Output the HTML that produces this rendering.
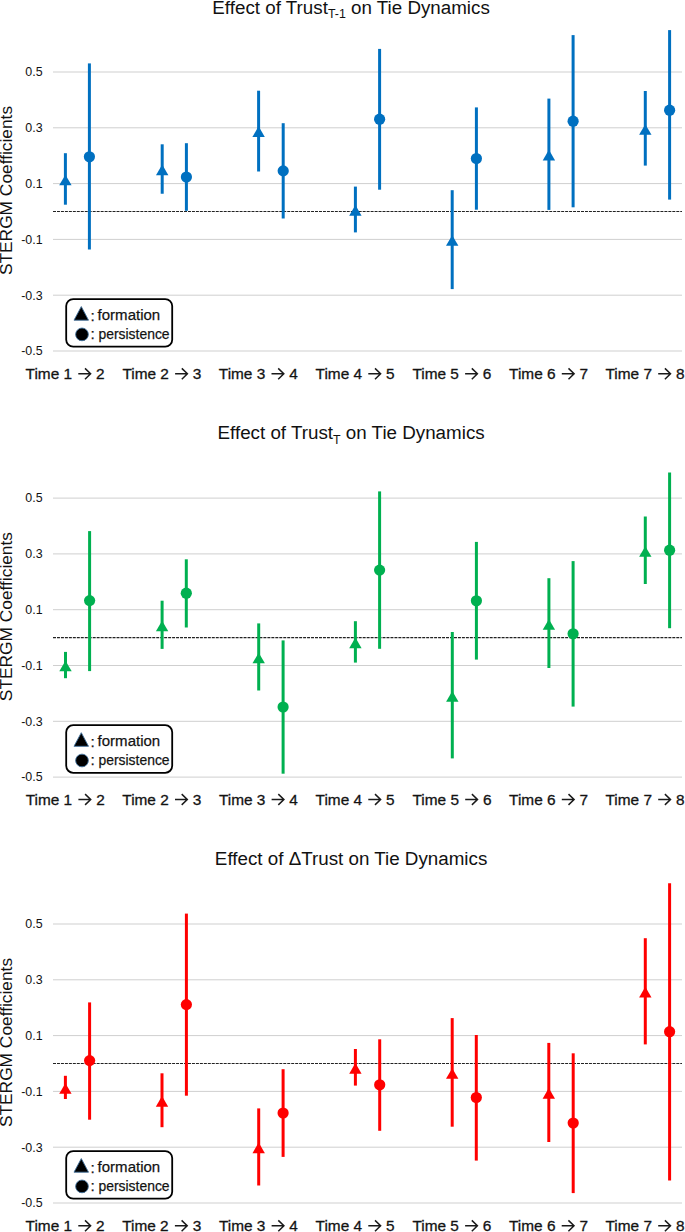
<!DOCTYPE html>
<html><head><meta charset="utf-8"><style>
html,body{margin:0;padding:0;background:#fff;}
svg{display:block;}
text{font-family:"Liberation Sans", sans-serif;fill:#111;}
.tk{font-size:13.5px;}
.yl{font-size:17.33px;}
.ti{font-size:18.8px;}
.sub{font-size:12.4px;}
.xl{font-size:15.4px;stroke:#1a1a1a;stroke-width:0.3px;}
.lg{font-size:15.4px;stroke:#1a1a1a;stroke-width:0.25px;}
</style></head><body>
<svg width="685" height="1232" viewBox="0 0 685 1232">
<rect width="685" height="1232" fill="#fff"/>
<line x1="53.0" y1="72.00" x2="682.0" y2="72.00" stroke="#cfcfcf" stroke-width="1"/>
<line x1="53.0" y1="127.80" x2="682.0" y2="127.80" stroke="#cfcfcf" stroke-width="1"/>
<line x1="53.0" y1="183.60" x2="682.0" y2="183.60" stroke="#cfcfcf" stroke-width="1"/>
<line x1="53.0" y1="239.40" x2="682.0" y2="239.40" stroke="#cfcfcf" stroke-width="1"/>
<line x1="53.0" y1="295.20" x2="682.0" y2="295.20" stroke="#cfcfcf" stroke-width="1"/>
<line x1="53.0" y1="351.00" x2="682.0" y2="351.00" stroke="#cfcfcf" stroke-width="1"/>
<text transform="translate(42.6,76.30) scale(0.92,1)" text-anchor="end" class="tk">0.5</text>
<text transform="translate(42.6,132.10) scale(0.92,1)" text-anchor="end" class="tk">0.3</text>
<text transform="translate(42.6,187.90) scale(0.92,1)" text-anchor="end" class="tk">0.1</text>
<text transform="translate(42.6,243.70) scale(0.92,1)" text-anchor="end" class="tk">-0.1</text>
<text transform="translate(42.6,299.50) scale(0.92,1)" text-anchor="end" class="tk">-0.3</text>
<text transform="translate(42.6,355.30) scale(0.92,1)" text-anchor="end" class="tk">-0.5</text>
<line x1="53.0" y1="211.50" x2="682.0" y2="211.50" stroke="#222" stroke-width="1.1" stroke-dasharray="2.98 0.99"/>
<text transform="translate(12.2,190.5) rotate(-90)" text-anchor="middle" class="yl">STERGM Coefficients</text>
<text x="351.1" y="13.8" text-anchor="middle" class="ti">Effect of Trust<tspan class="sub" dy="4.6">T-1</tspan><tspan dy="-4.6"> on Tie Dynamics</tspan></text>
<line x1="65.4" y1="153.2" x2="65.4" y2="204.7" stroke="#0070C0" stroke-width="3"/>
<path d="M65.40 174.65L71.60 185.35L59.20 185.35Z" fill="#0070C0"/>
<line x1="89.4" y1="63.4" x2="89.4" y2="249.5" stroke="#0070C0" stroke-width="3"/>
<circle cx="89.4" cy="156.8" r="5.6" fill="#0070C0"/>
<line x1="162.2" y1="144.3" x2="162.2" y2="193.75" stroke="#0070C0" stroke-width="3"/>
<path d="M162.20 164.45L168.40 175.15L156.00 175.15Z" fill="#0070C0"/>
<line x1="186.4" y1="143.2" x2="186.4" y2="210.8" stroke="#0070C0" stroke-width="3"/>
<circle cx="186.4" cy="177.0" r="5.6" fill="#0070C0"/>
<line x1="258.6" y1="90.7" x2="258.6" y2="171.5" stroke="#0070C0" stroke-width="3"/>
<path d="M258.60 126.25L264.80 136.95L252.40 136.95Z" fill="#0070C0"/>
<line x1="283.2" y1="123.2" x2="283.2" y2="218.5" stroke="#0070C0" stroke-width="3"/>
<circle cx="283.2" cy="170.9" r="5.6" fill="#0070C0"/>
<line x1="355.4" y1="186.6" x2="355.4" y2="232.4" stroke="#0070C0" stroke-width="3"/>
<path d="M355.40 204.95L361.60 215.65L349.20 215.65Z" fill="#0070C0"/>
<line x1="379.6" y1="48.9" x2="379.6" y2="189.7" stroke="#0070C0" stroke-width="3"/>
<circle cx="379.6" cy="119.2" r="5.6" fill="#0070C0"/>
<line x1="452.2" y1="190.2" x2="452.2" y2="289.1" stroke="#0070C0" stroke-width="3"/>
<path d="M452.20 235.15L458.40 245.85L446.00 245.85Z" fill="#0070C0"/>
<line x1="476.4" y1="107.4" x2="476.4" y2="209.7" stroke="#0070C0" stroke-width="3"/>
<circle cx="476.4" cy="158.5" r="5.6" fill="#0070C0"/>
<line x1="548.9" y1="98.6" x2="548.9" y2="209.9" stroke="#0070C0" stroke-width="3"/>
<path d="M548.90 149.85L555.10 160.55L542.70 160.55Z" fill="#0070C0"/>
<line x1="573.1" y1="35.1" x2="573.1" y2="207.3" stroke="#0070C0" stroke-width="3"/>
<circle cx="573.1" cy="121.2" r="5.6" fill="#0070C0"/>
<line x1="645.3" y1="91.0" x2="645.3" y2="165.6" stroke="#0070C0" stroke-width="3"/>
<path d="M645.30 124.15L651.50 134.85L639.10 134.85Z" fill="#0070C0"/>
<line x1="669.6" y1="30.1" x2="669.6" y2="199.6" stroke="#0070C0" stroke-width="3"/>
<circle cx="669.6" cy="110.2" r="5.6" fill="#0070C0"/>
<text x="25.60" y="379.0" class="xl">Time 1</text>
<path d="M78.30 373.80H90.40M85.00 368.40L90.60 373.80L85.00 379.20" fill="none" stroke="#1a1a1a" stroke-width="1.5"/>
<text x="104.60" y="379.0" text-anchor="end" class="xl">2</text>
<text x="122.40" y="379.0" class="xl">Time 2</text>
<path d="M175.10 373.80H187.20M181.80 368.40L187.40 373.80L181.80 379.20" fill="none" stroke="#1a1a1a" stroke-width="1.5"/>
<text x="201.40" y="379.0" text-anchor="end" class="xl">3</text>
<text x="218.80" y="379.0" class="xl">Time 3</text>
<path d="M271.50 373.80H283.60M278.20 368.40L283.80 373.80L278.20 379.20" fill="none" stroke="#1a1a1a" stroke-width="1.5"/>
<text x="297.80" y="379.0" text-anchor="end" class="xl">4</text>
<text x="315.60" y="379.0" class="xl">Time 4</text>
<path d="M368.30 373.80H380.40M375.00 368.40L380.60 373.80L375.00 379.20" fill="none" stroke="#1a1a1a" stroke-width="1.5"/>
<text x="394.60" y="379.0" text-anchor="end" class="xl">5</text>
<text x="412.40" y="379.0" class="xl">Time 5</text>
<path d="M465.10 373.80H477.20M471.80 368.40L477.40 373.80L471.80 379.20" fill="none" stroke="#1a1a1a" stroke-width="1.5"/>
<text x="491.40" y="379.0" text-anchor="end" class="xl">6</text>
<text x="509.10" y="379.0" class="xl">Time 6</text>
<path d="M561.80 373.80H573.90M568.50 368.40L574.10 373.80L568.50 379.20" fill="none" stroke="#1a1a1a" stroke-width="1.5"/>
<text x="588.10" y="379.0" text-anchor="end" class="xl">7</text>
<text x="605.50" y="379.0" class="xl">Time 7</text>
<path d="M658.20 373.80H670.30M664.90 368.40L670.50 373.80L664.90 379.20" fill="none" stroke="#1a1a1a" stroke-width="1.5"/>
<text x="684.50" y="379.0" text-anchor="end" class="xl">8</text>
<rect x="66.2" y="299.1" width="106" height="47.6" rx="7" ry="7" fill="#fff" stroke="#000" stroke-width="1.8"/>
<path d="M81.3 306.6L88.5 320.2L74.0 320.2Z" fill="#000" stroke="#41719C" stroke-width="0.9"/>
<circle cx="82" cy="334.4" r="6.35" fill="#000" stroke="#41719C" stroke-width="0.9"/>
<text x="90.4" y="320.5" class="lg">:</text>
<text x="90.4" y="339.0" class="lg">:</text>
<text x="97.6" y="319.9" class="lg" textLength="62.6" lengthAdjust="spacingAndGlyphs">formation</text>
<text x="98.4" y="338.5" class="lg" textLength="71.2" lengthAdjust="spacingAndGlyphs">persistence</text>
<line x1="53.0" y1="498.10" x2="682.0" y2="498.10" stroke="#cfcfcf" stroke-width="1"/>
<line x1="53.0" y1="553.90" x2="682.0" y2="553.90" stroke="#cfcfcf" stroke-width="1"/>
<line x1="53.0" y1="609.70" x2="682.0" y2="609.70" stroke="#cfcfcf" stroke-width="1"/>
<line x1="53.0" y1="665.50" x2="682.0" y2="665.50" stroke="#cfcfcf" stroke-width="1"/>
<line x1="53.0" y1="721.30" x2="682.0" y2="721.30" stroke="#cfcfcf" stroke-width="1"/>
<line x1="53.0" y1="777.10" x2="682.0" y2="777.10" stroke="#cfcfcf" stroke-width="1"/>
<text transform="translate(42.6,502.40) scale(0.92,1)" text-anchor="end" class="tk">0.5</text>
<text transform="translate(42.6,558.20) scale(0.92,1)" text-anchor="end" class="tk">0.3</text>
<text transform="translate(42.6,614.00) scale(0.92,1)" text-anchor="end" class="tk">0.1</text>
<text transform="translate(42.6,669.80) scale(0.92,1)" text-anchor="end" class="tk">-0.1</text>
<text transform="translate(42.6,725.60) scale(0.92,1)" text-anchor="end" class="tk">-0.3</text>
<text transform="translate(42.6,781.40) scale(0.92,1)" text-anchor="end" class="tk">-0.5</text>
<line x1="53.0" y1="637.60" x2="682.0" y2="637.60" stroke="#222" stroke-width="1.1" stroke-dasharray="2.98 0.99"/>
<text transform="translate(12.2,616.6) rotate(-90)" text-anchor="middle" class="yl">STERGM Coefficients</text>
<text x="351.1" y="439.3" text-anchor="middle" class="ti">Effect of Trust<tspan class="sub" dy="4.6">T</tspan><tspan dy="-4.6"> on Tie Dynamics</tspan></text>
<line x1="65.5" y1="651.9" x2="65.5" y2="678.2" stroke="#00B050" stroke-width="3"/>
<path d="M65.50 660.65L71.70 671.35L59.30 671.35Z" fill="#00B050"/>
<line x1="89.6" y1="531.1" x2="89.6" y2="671.1" stroke="#00B050" stroke-width="3"/>
<circle cx="89.6" cy="600.6" r="5.6" fill="#00B050"/>
<line x1="162.1" y1="600.7" x2="162.1" y2="648.9" stroke="#00B050" stroke-width="3"/>
<path d="M162.10 620.65L168.30 631.35L155.90 631.35Z" fill="#00B050"/>
<line x1="186.3" y1="559.3" x2="186.3" y2="627.5" stroke="#00B050" stroke-width="3"/>
<circle cx="186.3" cy="593.2" r="5.6" fill="#00B050"/>
<line x1="258.7" y1="623.4" x2="258.7" y2="690.5" stroke="#00B050" stroke-width="3"/>
<path d="M258.70 652.65L264.90 663.35L252.50 663.35Z" fill="#00B050"/>
<line x1="283.1" y1="640.4" x2="283.1" y2="773.7" stroke="#00B050" stroke-width="3"/>
<circle cx="283.1" cy="707.0" r="5.6" fill="#00B050"/>
<line x1="355.4" y1="621.2" x2="355.4" y2="662.6" stroke="#00B050" stroke-width="3"/>
<path d="M355.40 637.55L361.60 648.25L349.20 648.25Z" fill="#00B050"/>
<line x1="379.6" y1="491.4" x2="379.6" y2="648.8" stroke="#00B050" stroke-width="3"/>
<circle cx="379.6" cy="570.1" r="5.6" fill="#00B050"/>
<line x1="452.3" y1="632.0" x2="452.3" y2="758.4" stroke="#00B050" stroke-width="3"/>
<path d="M452.30 690.95L458.50 701.65L446.10 701.65Z" fill="#00B050"/>
<line x1="476.4" y1="541.9" x2="476.4" y2="659.6" stroke="#00B050" stroke-width="3"/>
<circle cx="476.4" cy="600.8" r="5.6" fill="#00B050"/>
<line x1="548.9" y1="578.2" x2="548.9" y2="668.0" stroke="#00B050" stroke-width="3"/>
<path d="M548.90 619.15L555.10 629.85L542.70 629.85Z" fill="#00B050"/>
<line x1="573.1" y1="561.1" x2="573.1" y2="706.6" stroke="#00B050" stroke-width="3"/>
<circle cx="573.1" cy="633.8" r="5.6" fill="#00B050"/>
<line x1="645.3" y1="516.5" x2="645.3" y2="584.0" stroke="#00B050" stroke-width="3"/>
<path d="M645.30 546.15L651.50 556.85L639.10 556.85Z" fill="#00B050"/>
<line x1="669.6" y1="472.5" x2="669.6" y2="628.2" stroke="#00B050" stroke-width="3"/>
<circle cx="669.6" cy="550.2" r="5.6" fill="#00B050"/>
<text x="25.70" y="804.7" class="xl">Time 1</text>
<path d="M78.40 799.50H90.50M85.10 794.10L90.70 799.50L85.10 804.90" fill="none" stroke="#1a1a1a" stroke-width="1.5"/>
<text x="104.70" y="804.7" text-anchor="end" class="xl">2</text>
<text x="122.30" y="804.7" class="xl">Time 2</text>
<path d="M175.00 799.50H187.10M181.70 794.10L187.30 799.50L181.70 804.90" fill="none" stroke="#1a1a1a" stroke-width="1.5"/>
<text x="201.30" y="804.7" text-anchor="end" class="xl">3</text>
<text x="218.90" y="804.7" class="xl">Time 3</text>
<path d="M271.60 799.50H283.70M278.30 794.10L283.90 799.50L278.30 804.90" fill="none" stroke="#1a1a1a" stroke-width="1.5"/>
<text x="297.90" y="804.7" text-anchor="end" class="xl">4</text>
<text x="315.60" y="804.7" class="xl">Time 4</text>
<path d="M368.30 799.50H380.40M375.00 794.10L380.60 799.50L375.00 804.90" fill="none" stroke="#1a1a1a" stroke-width="1.5"/>
<text x="394.60" y="804.7" text-anchor="end" class="xl">5</text>
<text x="412.50" y="804.7" class="xl">Time 5</text>
<path d="M465.20 799.50H477.30M471.90 794.10L477.50 799.50L471.90 804.90" fill="none" stroke="#1a1a1a" stroke-width="1.5"/>
<text x="491.50" y="804.7" text-anchor="end" class="xl">6</text>
<text x="509.10" y="804.7" class="xl">Time 6</text>
<path d="M561.80 799.50H573.90M568.50 794.10L574.10 799.50L568.50 804.90" fill="none" stroke="#1a1a1a" stroke-width="1.5"/>
<text x="588.10" y="804.7" text-anchor="end" class="xl">7</text>
<text x="605.50" y="804.7" class="xl">Time 7</text>
<path d="M658.20 799.50H670.30M664.90 794.10L670.50 799.50L664.90 804.90" fill="none" stroke="#1a1a1a" stroke-width="1.5"/>
<text x="684.50" y="804.7" text-anchor="end" class="xl">8</text>
<rect x="66.2" y="725.2" width="106" height="47.6" rx="7" ry="7" fill="#fff" stroke="#000" stroke-width="1.8"/>
<path d="M81.3 732.7L88.5 746.3L74.0 746.3Z" fill="#000" stroke="#41719C" stroke-width="0.9"/>
<circle cx="82" cy="760.5" r="6.35" fill="#000" stroke="#41719C" stroke-width="0.9"/>
<text x="90.4" y="746.6" class="lg">:</text>
<text x="90.4" y="765.1" class="lg">:</text>
<text x="97.6" y="746.0" class="lg" textLength="62.6" lengthAdjust="spacingAndGlyphs">formation</text>
<text x="98.4" y="764.6" class="lg" textLength="71.2" lengthAdjust="spacingAndGlyphs">persistence</text>
<line x1="53.0" y1="924.00" x2="682.0" y2="924.00" stroke="#cfcfcf" stroke-width="1"/>
<line x1="53.0" y1="979.80" x2="682.0" y2="979.80" stroke="#cfcfcf" stroke-width="1"/>
<line x1="53.0" y1="1035.60" x2="682.0" y2="1035.60" stroke="#cfcfcf" stroke-width="1"/>
<line x1="53.0" y1="1091.40" x2="682.0" y2="1091.40" stroke="#cfcfcf" stroke-width="1"/>
<line x1="53.0" y1="1147.20" x2="682.0" y2="1147.20" stroke="#cfcfcf" stroke-width="1"/>
<line x1="53.0" y1="1203.00" x2="682.0" y2="1203.00" stroke="#cfcfcf" stroke-width="1"/>
<text transform="translate(42.6,928.30) scale(0.92,1)" text-anchor="end" class="tk">0.5</text>
<text transform="translate(42.6,984.10) scale(0.92,1)" text-anchor="end" class="tk">0.3</text>
<text transform="translate(42.6,1039.90) scale(0.92,1)" text-anchor="end" class="tk">0.1</text>
<text transform="translate(42.6,1095.70) scale(0.92,1)" text-anchor="end" class="tk">-0.1</text>
<text transform="translate(42.6,1151.50) scale(0.92,1)" text-anchor="end" class="tk">-0.3</text>
<text transform="translate(42.6,1207.30) scale(0.92,1)" text-anchor="end" class="tk">-0.5</text>
<line x1="53.0" y1="1063.50" x2="682.0" y2="1063.50" stroke="#222" stroke-width="1.1" stroke-dasharray="2.98 0.99"/>
<text transform="translate(12.2,1042.5) rotate(-90)" text-anchor="middle" class="yl">STERGM Coefficients</text>
<text x="351.1" y="865.3" text-anchor="middle" class="ti">Effect of ΔTrust on Tie Dynamics</text>
<line x1="65.4" y1="1075.8" x2="65.4" y2="1099.0" stroke="#FF0000" stroke-width="3"/>
<path d="M65.40 1083.15L71.60 1093.85L59.20 1093.85Z" fill="#FF0000"/>
<line x1="89.6" y1="1002.4" x2="89.6" y2="1119.7" stroke="#FF0000" stroke-width="3"/>
<circle cx="89.6" cy="1060.6" r="5.6" fill="#FF0000"/>
<line x1="162.0" y1="1073.3" x2="162.0" y2="1127.2" stroke="#FF0000" stroke-width="3"/>
<path d="M162.00 1096.05L168.20 1106.75L155.80 1106.75Z" fill="#FF0000"/>
<line x1="186.4" y1="913.6" x2="186.4" y2="1095.7" stroke="#FF0000" stroke-width="3"/>
<circle cx="186.4" cy="1004.6" r="5.6" fill="#FF0000"/>
<line x1="258.7" y1="1108.4" x2="258.7" y2="1185.5" stroke="#FF0000" stroke-width="3"/>
<path d="M258.70 1142.45L264.90 1153.15L252.50 1153.15Z" fill="#FF0000"/>
<line x1="283.1" y1="1069.2" x2="283.1" y2="1156.9" stroke="#FF0000" stroke-width="3"/>
<circle cx="283.1" cy="1113.0" r="5.6" fill="#FF0000"/>
<line x1="355.4" y1="1049.0" x2="355.4" y2="1085.6" stroke="#FF0000" stroke-width="3"/>
<path d="M355.40 1062.95L361.60 1073.65L349.20 1073.65Z" fill="#FF0000"/>
<line x1="379.7" y1="1039.3" x2="379.7" y2="1130.8" stroke="#FF0000" stroke-width="3"/>
<circle cx="379.7" cy="1084.8" r="5.6" fill="#FF0000"/>
<line x1="452.2" y1="1018.1" x2="452.2" y2="1126.7" stroke="#FF0000" stroke-width="3"/>
<path d="M452.20 1068.15L458.40 1078.85L446.00 1078.85Z" fill="#FF0000"/>
<line x1="476.3" y1="1035.0" x2="476.3" y2="1160.6" stroke="#FF0000" stroke-width="3"/>
<circle cx="476.3" cy="1097.5" r="5.6" fill="#FF0000"/>
<line x1="548.8" y1="1042.9" x2="548.8" y2="1142.0" stroke="#FF0000" stroke-width="3"/>
<path d="M548.80 1088.05L555.00 1098.75L542.60 1098.75Z" fill="#FF0000"/>
<line x1="573.2" y1="1053.3" x2="573.2" y2="1193.1" stroke="#FF0000" stroke-width="3"/>
<circle cx="573.2" cy="1123.0" r="5.6" fill="#FF0000"/>
<line x1="645.3" y1="938.2" x2="645.3" y2="1044.4" stroke="#FF0000" stroke-width="3"/>
<path d="M645.30 986.85L651.50 997.55L639.10 997.55Z" fill="#FF0000"/>
<line x1="669.6" y1="883.3" x2="669.6" y2="1180.4" stroke="#FF0000" stroke-width="3"/>
<circle cx="669.6" cy="1031.7" r="5.6" fill="#FF0000"/>
<text x="25.60" y="1231.0" class="xl">Time 1</text>
<path d="M78.30 1225.80H90.40M85.00 1220.40L90.60 1225.80L85.00 1231.20" fill="none" stroke="#1a1a1a" stroke-width="1.5"/>
<text x="104.60" y="1231.0" text-anchor="end" class="xl">2</text>
<text x="122.20" y="1231.0" class="xl">Time 2</text>
<path d="M174.90 1225.80H187.00M181.60 1220.40L187.20 1225.80L181.60 1231.20" fill="none" stroke="#1a1a1a" stroke-width="1.5"/>
<text x="201.20" y="1231.0" text-anchor="end" class="xl">3</text>
<text x="218.90" y="1231.0" class="xl">Time 3</text>
<path d="M271.60 1225.80H283.70M278.30 1220.40L283.90 1225.80L278.30 1231.20" fill="none" stroke="#1a1a1a" stroke-width="1.5"/>
<text x="297.90" y="1231.0" text-anchor="end" class="xl">4</text>
<text x="315.60" y="1231.0" class="xl">Time 4</text>
<path d="M368.30 1225.80H380.40M375.00 1220.40L380.60 1225.80L375.00 1231.20" fill="none" stroke="#1a1a1a" stroke-width="1.5"/>
<text x="394.60" y="1231.0" text-anchor="end" class="xl">5</text>
<text x="412.40" y="1231.0" class="xl">Time 5</text>
<path d="M465.10 1225.80H477.20M471.80 1220.40L477.40 1225.80L471.80 1231.20" fill="none" stroke="#1a1a1a" stroke-width="1.5"/>
<text x="491.40" y="1231.0" text-anchor="end" class="xl">6</text>
<text x="509.00" y="1231.0" class="xl">Time 6</text>
<path d="M561.70 1225.80H573.80M568.40 1220.40L574.00 1225.80L568.40 1231.20" fill="none" stroke="#1a1a1a" stroke-width="1.5"/>
<text x="588.00" y="1231.0" text-anchor="end" class="xl">7</text>
<text x="605.50" y="1231.0" class="xl">Time 7</text>
<path d="M658.20 1225.80H670.30M664.90 1220.40L670.50 1225.80L664.90 1231.20" fill="none" stroke="#1a1a1a" stroke-width="1.5"/>
<text x="684.50" y="1231.0" text-anchor="end" class="xl">8</text>
<rect x="66.2" y="1151.1" width="106" height="47.6" rx="7" ry="7" fill="#fff" stroke="#000" stroke-width="1.8"/>
<path d="M81.3 1158.6L88.5 1172.2L74.0 1172.2Z" fill="#000" stroke="#41719C" stroke-width="0.9"/>
<circle cx="82" cy="1186.4" r="6.35" fill="#000" stroke="#41719C" stroke-width="0.9"/>
<text x="90.4" y="1172.5" class="lg">:</text>
<text x="90.4" y="1191.0" class="lg">:</text>
<text x="97.6" y="1171.9" class="lg" textLength="62.6" lengthAdjust="spacingAndGlyphs">formation</text>
<text x="98.4" y="1190.5" class="lg" textLength="71.2" lengthAdjust="spacingAndGlyphs">persistence</text>
</svg>
</body></html>
